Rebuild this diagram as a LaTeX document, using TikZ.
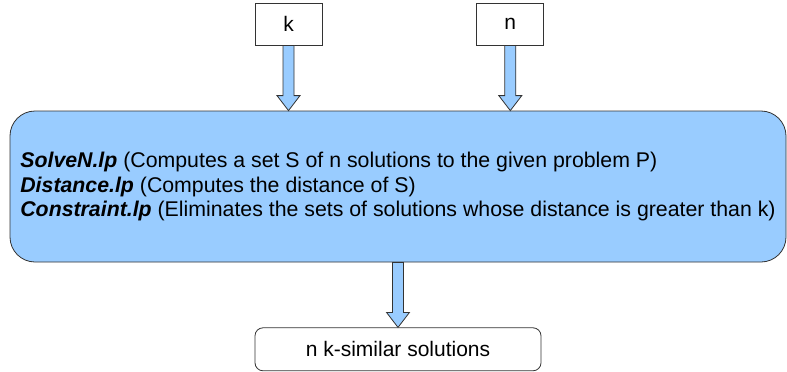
\documentclass[tikz,border=0pt]{standalone}
\usepackage{fontspec}
\setmainfont{Liberation Sans}
\usetikzlibrary{positioning,calc}
\definecolor{boxblue}{HTML}{99CCFF}
\definecolor{edgegray}{HTML}{333333}

% block arrow going straight down from #1 to #2
\newcommand{\fatarrow}[2]{%
  \draw[fatarrow] let \p1=(#1), \p2=(#2) in
    (\x1-5.5pt,\y1) -- (\x1-5.5pt,\y2+15pt) -- (\x1-11.5pt,\y2+15pt) -- (\x1,\y2)
    -- (\x1+11.5pt,\y2+15pt) -- (\x1+5.5pt,\y2+15pt) -- (\x1+5.5pt,\y1) -- cycle;}

\begin{document}
\begin{tikzpicture}[
  x=1pt, y=1pt,
  inbox/.style={rectangle, draw=edgegray, line width=0.8pt, fill=white,
                minimum width=67pt, minimum height=42pt, inner sep=0pt,
                font=\fontsize{21pt}{24pt}\selectfont},
  progbox/.style={rectangle, draw=edgegray, line width=0.8pt, fill=boxblue,
                rounded corners=25pt, minimum width=776pt, minimum height=151pt,
                inner xsep=6pt, align=left,
                font=\fontsize{21.3pt}{24.5pt}\selectfont},
  outbox/.style={rectangle, draw=edgegray, line width=0.8pt, fill=white,
                rounded corners=8pt, minimum width=286pt, minimum height=43pt,
                font=\fontsize{21pt}{24pt}\selectfont},
  fatarrow/.style={draw=edgegray, line width=0.8pt, fill=boxblue, line join=miter},
]
\useasboundingbox (0,0) rectangle (787,-372);

\node[inbox] (k) at (288.5,-24) {k};
\node[inbox, right=154pt of k] (n) {n};
\node[progbox] (sol) at (398,-186.5)
  {\textbf{\textit{SolveN.lp}} (Computes a set S of n solutions to the given problem P)\\
   \textbf{\textit{Distance.lp}} (Computes the distance of S)\\
   \textbf{\textit{Constraint.lp}} (Eliminates the sets of solutions whose distance is greater than k)};
\node[outbox, below=65pt of sol] (res) {n k-similar solutions};

\fatarrow{k.south}{k.south |- sol.north}
\fatarrow{n.south}{n.south |- sol.north}
\fatarrow{sol.south}{res.north}

\end{tikzpicture}
\end{document}
